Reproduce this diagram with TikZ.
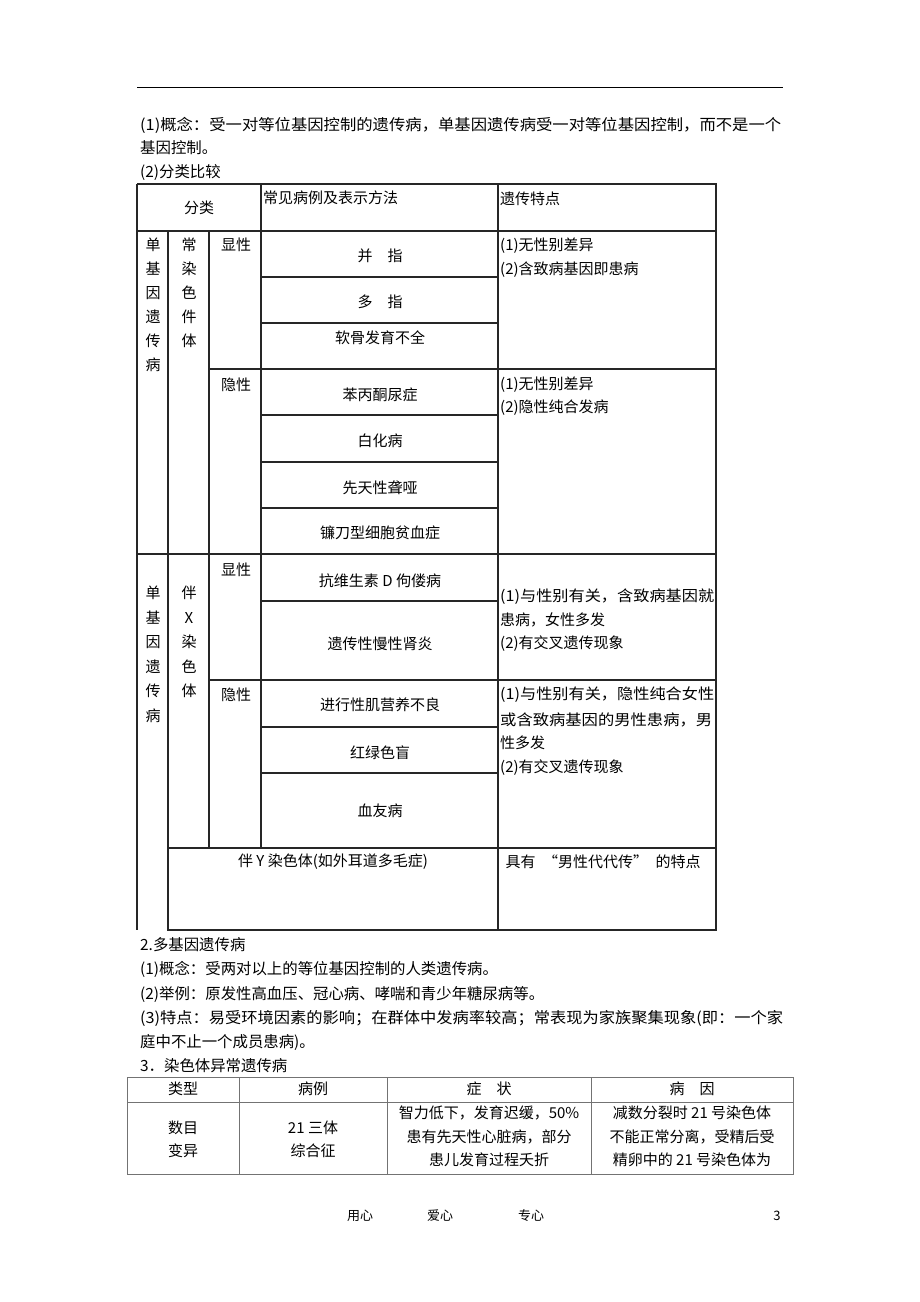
\documentclass[tikz,border=0pt]{standalone}
\usepackage{fontspec}
\setmainfont{Noto Sans CJK SC}

% justified lines: stretch a line to a given width
\newcommand{\fitline}[2]{\resizebox{#1}{\height}{#2}}

\tikzset{
  tabline/.style={line width=1.2pt, black!85},
  tabline2/.style={line width=0.9pt, black!55},
  txt/.style={inner sep=0pt, font=\fontsize{15}{18}\selectfont},
  paratxt/.style={inner sep=0pt, anchor=west, font=\fontsize{15.4}{18}\selectfont},
  lefttxt/.style={txt, anchor=west},
  foottxt/.style={inner sep=0pt, font=\fontsize{13}{15}\selectfont},
}

\begin{document}
\begin{tikzpicture}[x=1pt,y=-1pt]
    \fill[white] (0,0) rectangle (920,1302);
    \useasboundingbox (0,0) rectangle (920,1302);

    % page head rule
    \coordinate (HL) at (137,87);
    \coordinate (HR) at (783,87);
    \draw[line width=0.9pt] (HL) -- (HR);

    \node[paratxt] (p1) at (140,125) {\fitline{641pt}{(1)概念：受一对等位基因控制的遗传病，单基因遗传病受一对等位基因控制，而不是一个}};
    \node[paratxt] (p2) at (140,148) {基因控制。};
    \node[paratxt] (p3) at (140,172) {(2)分类比较};

    % table 1 grid
    \draw[tabline] (137,184) -- (716,184) -- (716,930) -- (168,930) -- (168,231);
    \draw[tabline] (137,184) -- (137,930);
    \draw[tabline] (137,231) -- (716,231);
    \draw[tabline] (137,554) -- (716,554);
    \draw[tabline] (261,184) -- (261,848);
    \draw[tabline] (498,184) -- (498,930);
    \draw[tabline] (209,231) -- (209,848);
    \draw[tabline] (209,369) -- (716,369);
    \draw[tabline] (209,680) -- (716,680);
    \draw[tabline] (168,848) -- (716,848);
    \foreach \y in {277,323,415,462,508,601,727,773}
        \draw[tabline] (261,\y) -- (498,\y);

    % header row
    \node[txt] (fl) at (199,208) {分类};
    \node[lefttxt] (lb) at (263,198) {常见病例及表示方法};
    \node[lefttxt] (td) at (500,199) {遗传特点};

    % vertical labels
    \foreach \c [count=\i from 0] in {单,基,因,遗,传,病}
        \node[txt] (da\i) at (153,{245+24*\i}) {\c};
    \foreach \c [count=\i from 0] in {常,染,色,件,体}
        \node[txt] (cr\i) at (189,{245+24*\i}) {\c};
    \foreach \c [count=\i from 0] in {单,基,因,遗,传,病}
        \node[txt] (db\i) at (153,{593+24.5*\i}) {\c};
    \foreach \c [count=\i from 0] in {伴,X,染,色,体}
        \node[txt] (xr\i) at (189,{593+24.5*\i}) {\c};

    \node[txt] (xa) at (236,245) {显性};
    \node[txt] (ya) at (236,385) {隐性};
    \node[txt] (xb) at (236,570) {显性};
    \node[txt] (yb) at (236,695) {隐性};

    % examples
    \node[txt] (e1) at (380,256) {并　指};
    \node[txt] (e2) at (380,302) {多　指};
    \node[txt] (e3) at (380,338) {软骨发育不全};
    \node[txt] (e4) at (380,395) {苯丙酮尿症};
    \node[txt] (e5) at (380,441) {白化病};
    \node[txt] (e6) at (380,488) {先天性聋哑};
    \node[txt] (e7) at (380,533) {镰刀型细胞贫血症};
    \node[txt] (e8) at (380,581) {抗维生素 D 佝偻病};
    \node[txt] (e9) at (380,644) {遗传性慢性肾炎};
    \node[txt] (e10) at (380,705) {进行性肌营养不良};
    \node[txt] (e11) at (380,753) {红绿色盲};
    \node[txt] (e12) at (380,811) {血友病};
    \node[txt] (e13) at (333,862) {伴 Y 染色体(如外耳道多毛症)};

    % features
    \node[lefttxt] (f1) at (500,246) {(1)无性别差异};
    \node[lefttxt] (f2) at (500,270) {(2)含致病基因即患病};
    \node[lefttxt] (f3) at (500,385) {(1)无性别差异};
    \node[lefttxt] (f4) at (500,408) {(2)隐性纯合发病};
    \node[lefttxt] (f5) at (500,597) {\fitline{214pt}{(1)与性别有关，含致病基因就}};
    \node[lefttxt] (f6) at (500,620) {患病，女性多发};
    \node[lefttxt] (f7) at (500,644) {(2)有交叉遗传现象};
    \node[lefttxt] (f8) at (500,695) {\fitline{214pt}{(1)与性别有关，隐性纯合女性}};
    \node[lefttxt] (f9) at (500,720) {\fitline{212pt}{或含致病基因的男性患病，男}};
    \node[lefttxt] (f10) at (500,743) {性多发};
    \node[lefttxt] (f11) at (500,768) {(2)有交叉遗传现象};
    \node[txt] (f12) at (603,862) {具有\hspace{0.5em}“男性代代传”\hspace{0.5em}的特点};

    % text between the tables
    \node[paratxt] (q1) at (140,945) {2.多基因遗传病};
    \node[paratxt] (q2) at (140,969) {(1)概念：受两对以上的等位基因控制的人类遗传病。};
    \node[paratxt] (q3) at (140,994) {(2)举例：原发性高血压、冠心病、哮喘和青少年糖尿病等。};
    \node[paratxt] (q4) at (140,1018) {\fitline{643pt}{(3)特点：易受环境因素的影响；在群体中发病率较高；常表现为家族聚集现象(即：一个家}};
    \node[paratxt] (q5) at (140,1042) {庭中不止一个成员患病)。};
    \node[paratxt] (q6) at (140,1066) {3．染色体异常遗传病};

    % table 2
    \draw[tabline2] (127,1077) rectangle (793,1174);
    \draw[tabline2] (127,1102) -- (793,1102);
    \foreach \x in {239,387,591}
        \draw[tabline2] (\x,1077) -- (\x,1174);

    \node[txt] (g1) at (183,1089) {类型};
    \node[txt] (g2) at (313,1089) {病例};
    \node[txt] (g3) at (489,1089) {症　状};
    \node[txt] (g4) at (692,1089) {病　因};

    \node[txt] (r1) at (183,1128) {数目};
    \node[txt] (r2) at (183,1151) {变异};
    \node[txt] (r3) at (313,1128) {21 三体};
    \node[txt] (r4) at (313,1151) {综合征};
    \node[txt] (r5) at (489,1113) {智力低下，发育迟缓，50\%};
    \node[txt] (r6) at (489,1137) {患有先天性心脏病，部分};
    \node[txt] (r7) at (489,1160) {患儿发育过程夭折};
    \node[txt] (r8) at (692,1113) {减数分裂时 21 号染色体};
    \node[txt] (r9) at (692,1137) {不能正常分离，受精后受};
    \node[txt] (r10) at (692,1160) {精卵中的 21 号染色体为};

    % footer
    \node[foottxt] (u1) at (360,1216) {用心};
    \node[foottxt] (u2) at (440,1216) {爱心};
    \node[foottxt] (u3) at (531,1216) {专心};
    \node[foottxt] (u4) at (777,1216) {3};
\end{tikzpicture}
\end{document}
